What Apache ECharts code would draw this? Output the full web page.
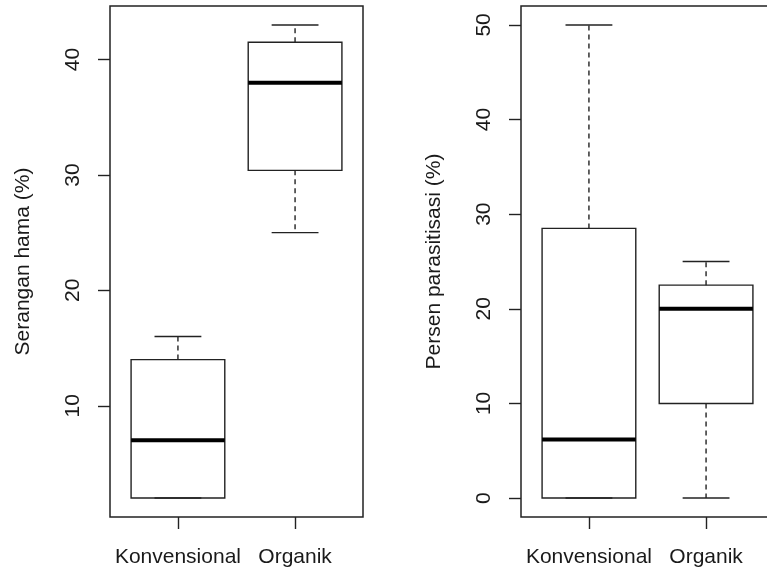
<!DOCTYPE html>
<html>
<head>
<meta charset="utf-8">
<script src="https://cdn.jsdelivr.net/npm/echarts@6/dist/echarts.min.js"></script>
<style>
html,body{margin:0;padding:0;background:#fff;}
#chart{width:767px;height:571px;}
</style>
</head>
<body>
<div id="chart"></div>
<script>
// ---- data ----
var categories = ['Konvensional', 'Organik'];
// [min, q1, median, q3, max]
var seranganKonvensional = [2, 2, 7, 14, 16];
var seranganOrganik = [25, 30.4, 38, 41.5, 43];
var parasitKonvensional = [0, 0, 6.2, 28.5, 50];
var parasitOrganik = [0, 10, 20, 22.5, 25];
var leftTicks = [10, 20, 30, 40];
var rightTicks = [0, 10, 20, 30, 40, 50];
var leftTitle = 'Serangan hama (%)';
var rightTitle = 'Persen parasitisasi (%)';

var FONT = 'Liberation Sans, Arial, sans-serif';
var TXT = '#1a1a1a';
var LINE = '#222';

function rRange(groups) {
  var lo = Infinity, hi = -Infinity;
  groups.forEach(function (g) { lo = Math.min(lo, g[0]); hi = Math.max(hi, g[4]); });
  var pad = (hi - lo) * 0.04;
  return [lo - pad, hi + pad];
}
var leftRange = rRange([seranganKonvensional, seranganOrganik]);
var rightRange = rRange([parasitKonvensional, parasitOrganik]);
var xMin = 0.5 - 0.04 * 2, xMax = categories.length + 0.5 + 0.04 * 2;

function toItems(groups) {
  return groups.map(function (g, i) { return [i + 1].concat(g); });
}

function renderBox(params, api) {
  var x = api.value(0);
  var mn = api.value(1), q1 = api.value(2), md = api.value(3), q3 = api.value(4), mx = api.value(5);
  var hw = 0.4, cw = 0.2;
  var tl = api.coord([x - hw, q3]);
  var br = api.coord([x + hw, q1]);
  var cTop = api.coord([x, mx]);
  var cQ3 = api.coord([x, q3]);
  var cQ1 = api.coord([x, q1]);
  var cBot = api.coord([x, mn]);
  var capL = api.coord([x - cw, mx])[0], capR = api.coord([x + cw, mx])[0];
  var mL = api.coord([x - hw, md]), mR = api.coord([x + hw, md]);
  var dash = { stroke: LINE, lineWidth: 1.4, lineDash: [5, 4] };
  var solid = { stroke: LINE, lineWidth: 1.4 };
  return {
    type: 'group',
    children: [
      { type: 'line', shape: { x1: cQ3[0], y1: cQ3[1], x2: cTop[0], y2: cTop[1] }, style: dash },
      { type: 'line', shape: { x1: cQ1[0], y1: cQ1[1], x2: cBot[0], y2: cBot[1] }, style: dash },
      { type: 'line', shape: { x1: capL, y1: cTop[1], x2: capR, y2: cTop[1] }, style: solid },
      { type: 'line', shape: { x1: capL, y1: cBot[1], x2: capR, y2: cBot[1] }, style: solid },
      { type: 'rect', shape: { x: tl[0], y: tl[1], width: br[0] - tl[0], height: br[1] - tl[1] },
        style: { fill: 'none', stroke: LINE, lineWidth: 1.4 } },
      { type: 'line', shape: { x1: mL[0], y1: mL[1], x2: mR[0], y2: mR[1] },
        style: { stroke: '#000', lineWidth: 4 } }
    ]
  };
}

function xAxis(gi) {
  return {
    type: 'value', gridIndex: gi, min: xMin, max: xMax,
    axisLine: { show: false, onZero: false },
    splitLine: { show: false },
    axisTick: { show: true, length: 12, lineStyle: { color: LINE, width: 1.4 }, customValues: [1, 2] },
    axisLabel: {
      customValues: [1, 2], margin: 30, color: TXT, fontFamily: FONT, fontSize: 21,
      formatter: function (v) { return categories[Math.round(v) - 1] || ''; }
    }
  };
}
function yAxis(gi, range, ticks, title, gap) {
  return {
    type: 'value', gridIndex: gi, min: range[0], max: range[1],
    name: title, nameLocation: 'middle', nameGap: gap, nameRotate: 90,
    nameTextStyle: { color: TXT, fontFamily: FONT, fontSize: 21 },
    axisLine: { show: false, onZero: false },
    splitLine: { show: false },
    axisTick: { show: true, length: 12, lineStyle: { color: LINE, width: 1.4 }, customValues: ticks },
    axisLabel: {
      customValues: ticks, rotate: 90, margin: 26, color: TXT, fontFamily: FONT, fontSize: 21
    }
  };
}

var chart = echarts.init(document.getElementById('chart'), null, { renderer: 'canvas' });
chart.setOption({
  animation: false,
  backgroundColor: '#fff',
  grid: [
    { left: 110, top: 6, width: 253, height: 511, show: true, borderColor: LINE, borderWidth: 1.5,
      backgroundColor: 'transparent', outerBoundsMode: 'none', containLabel: false },
    { left: 521, top: 6, width: 253, height: 511, show: true, borderColor: LINE, borderWidth: 1.5,
      backgroundColor: 'transparent', outerBoundsMode: 'none', containLabel: false }
  ],
  xAxis: [xAxis(0), xAxis(1)],
  yAxis: [
    yAxis(0, leftRange, leftTicks, leftTitle, 76),
    yAxis(1, rightRange, rightTicks, rightTitle, 76)
  ],
  series: [
    { type: 'custom', xAxisIndex: 0, yAxisIndex: 0, renderItem: renderBox,
      data: toItems([seranganKonvensional, seranganOrganik]), clip: false },
    { type: 'custom', xAxisIndex: 1, yAxisIndex: 1, renderItem: renderBox,
      data: toItems([parasitKonvensional, parasitOrganik]), clip: false }
  ]
});
</script>
</body>
</html>
